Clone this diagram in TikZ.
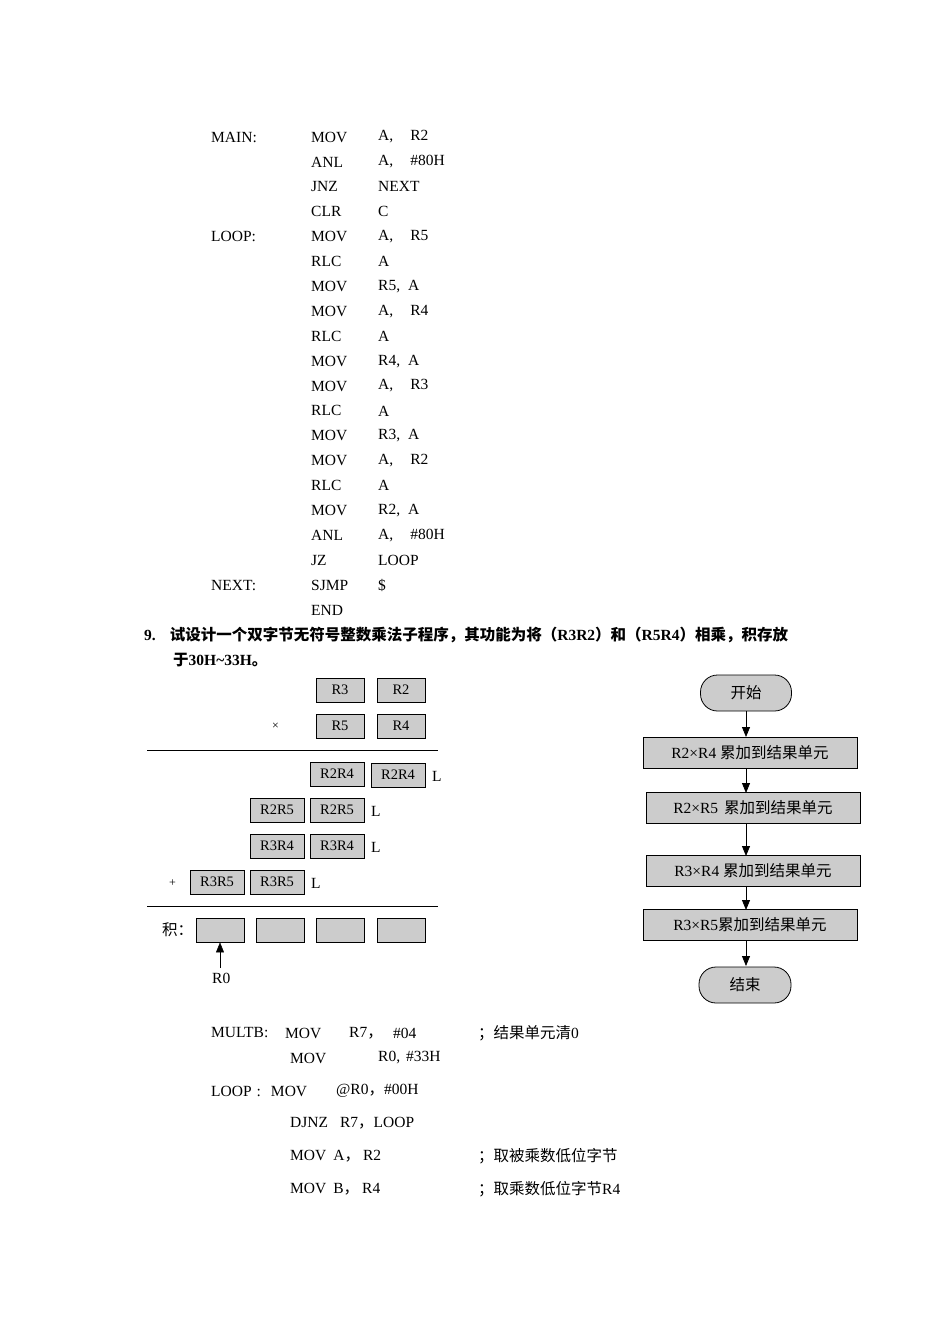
\documentclass[tikz,border=0pt]{standalone}
\usepackage{fontspec}
\setmainfont{Liberation Serif}
\newfontfamily\cjk{Noto Sans CJK SC}
\usetikzlibrary{arrows.meta}
\begin{document}
\begin{tikzpicture}[x=1pt,y=-1pt,
 t/.style={anchor=west,inner sep=0pt,font=\fontsize{15.5}{15.5}\selectfont},
 reg/.style={draw,fill=gray!40,minimum height=24pt,inner sep=0pt,font=\fontsize{14.5}{14.5}\selectfont,line width=0.8pt},
 fbox/.style={draw,fill=gray!40,minimum height=31pt,minimum width=214pt,inner sep=0pt,font=\fontsize{15.5}{15.5}\selectfont,line width=0.8pt},
 term/.style={draw,fill=gray!40,rounded corners=17pt,minimum height=36pt,minimum width=91pt,font=\fontsize{15.5}{15.5}\selectfont\cjk,line width=0.8pt},
 arr/.style={-{Triangle[length=10pt,width=8pt]},line width=0.8pt}]
\useasboundingbox (0,0) rectangle (950,1344);
% code
\foreach \l/\m/\o [count=\i from 0] in {MAIN:/MOV/{A,\hspace{17pt}R2},/ANL/{A,\hspace{17pt}\#80H},/JNZ/NEXT,/CLR/C,LOOP:/MOV/{A,\hspace{17pt}R5},/RLC/A,/MOV/{R5,\hspace{8pt}A},/MOV/{A,\hspace{17pt}R4},/RLC/A,/MOV/{R4,\hspace{8pt}A},/MOV/{A,\hspace{17pt}R3},/RLC/A,/MOV/{R3,\hspace{8pt}A},/MOV/{A,\hspace{17pt}R2},/RLC/A,/MOV/{R2,\hspace{8pt}A},/ANL/{A,\hspace{17pt}\#80H},/JZ/LOOP,NEXT:/SJMP/\$,/END/{}}{
 \node[t] (l\i) at (211,{137+24.9*\i}) {\l};
 \node[t] (m\i) at (311,{137+24.9*\i}) {\m};
 \node[t] (o\i) at (378,{137+24.9*\i}) {\o};
}
\node[t,font=\fontsize{15.5}{15.5}\selectfont\bfseries] (q9) at (144,635) {9.\hspace{14pt}{\cjk 试设计一个双字节无符号整数乘法子程序，其功能为将（}R3R2{\cjk ）和（}R5R4{\cjk ）相乘，积存放}};
\node[t,font=\fontsize{15.5}{15.5}\selectfont\bfseries] (q9b) at (173,660) {{\cjk 于}30H\textasciitilde33H{\cjk 。}};
% multiplication
\node[reg,minimum width=48pt] (r3) at (340,690) {R3};
\node[reg,minimum width=48pt] (r2) at (401,690) {R2};
\node[reg,minimum width=48pt] (r5) at (340,726) {R5};
\node[reg,minimum width=48pt] (r4) at (401,726) {R4};
\node[t,font=\fontsize{12}{12}\selectfont] (x) at (272,726) {×};
\draw[line width=0.8pt] (147,750) coordinate (h1) -- (438,750) coordinate (h2);
\node[reg,minimum width=54pt] (a1) at (337,774) {R2R4};
\node[reg,minimum width=54pt] (a2) at (398,775) {R2R4};
\node[t] (L1) at (432,776) {L};
\node[reg,minimum width=54pt] (b1) at (277,810) {R2R5};
\node[reg,minimum width=54pt] (b2) at (337,810) {R2R5};
\node[t] (L2) at (371,811) {L};
\node[reg,minimum width=54pt] (c1) at (277,846) {R3R4};
\node[reg,minimum width=54pt] (c2) at (337,846) {R3R4};
\node[t] (L3) at (371,847) {L};
\node[t,font=\fontsize{12}{12}\selectfont] (plus) at (169,883) {+};
\node[reg,minimum width=54pt] (d1) at (217,882) {R3R5};
\node[reg,minimum width=54pt] (d2) at (277,882) {R3R5};
\node[t] (L4) at (311,883) {L};
\draw[line width=0.8pt] (147,906) coordinate (h3) -- (438,906) coordinate (h4);
\node[t] (ji) at (162,930) {\cjk 积：};
\node[reg,minimum width=48pt] (p1) at (220,930) {};
\node[reg,minimum width=48pt] (p2) at (280,930) {};
\node[reg,minimum width=48pt] (p3) at (340,930) {};
\node[reg,minimum width=48pt] (p4) at (401,930) {};
\coordinate (r0a) at (220,968);
\draw[arr,line width=0.4pt] (r0a) -- (p1.south);
\node[t] (r0) at (212,978) {R0};
% flowchart
\node[term] (st) at (746,693) {开始};
\node[fbox] (f1) at (750,753) {R2×R4 {\cjk 累加到结果单元}};
\node[fbox] (f2) at (753,808) {R2×R5\hspace{6pt}{\cjk 累加到结果单元}};
\node[fbox] (f3) at (753,871) {R3×R4 {\cjk 累加到结果单元}};
\node[fbox] (f4) at (750,925) {R3×R5{\cjk 累加到结果单元}};
\node[term,minimum width=92pt] (en) at (745,985) {结束};
\draw[arr] (st.south) -- (746,737);
\draw[arr] (746,768) -- (746,793);
\draw[arr] (746,823) -- (746,856);
\draw[arr] (746,886) -- (746,910);
\draw[arr] (746,941) -- (746,966);
% bottom code
\node[t] (b1a) at (211,1033) {MULTB:};
\node[t] (b1b) at (285,1033) {MOV};
\node[t] (b1c) at (349,1033) {R7{\cjk ，}};
\node[t] (b1d) at (393,1033) {\#04};
\node[t] (b1e) at (478,1033) {{\cjk ；结果单元清}0};
\node[t] (b2a) at (290,1058) {MOV};
\node[t] (b2b) at (378,1058) {R0,\hspace{6pt}\#33H};
\node[t] (b3a) at (211,1091) {LOOP\hspace{5pt}:\hspace{10pt}MOV};
\node[t] (b3b) at (336,1091) {@R0{\cjk ，}\#00H};
\node[t] (b4a) at (290,1123) {DJNZ\hspace{12pt}R7{\cjk ，}LOOP};
\node[t] (b5a) at (290,1156) {MOV\hspace{7pt}A{\cjk ，}\hspace{3pt}R2};
\node[t] (b5b) at (478,1156) {\cjk ；取被乘数低位字节};
\node[t] (b6a) at (290,1189) {MOV\hspace{7pt}B{\cjk ，}\hspace{3pt}R4};
\node[t] (b6b) at (478,1189) {{\cjk ；取乘数低位字节}R4};
\end{tikzpicture}
\end{document}
